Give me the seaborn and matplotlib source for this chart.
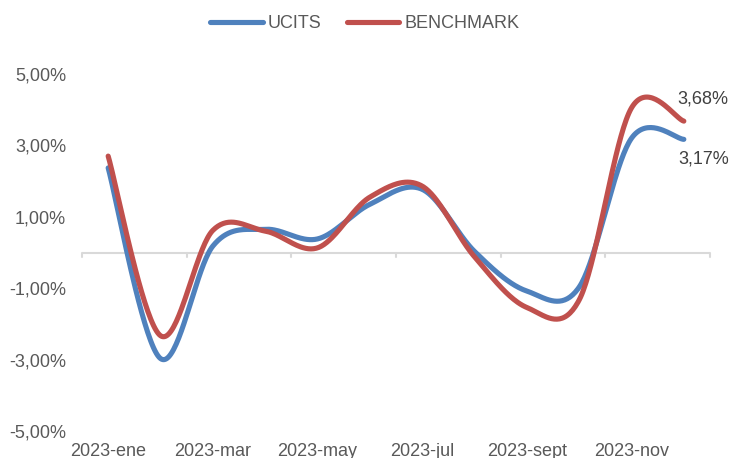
import numpy as np
import pandas as pd
import matplotlib
matplotlib.use("Agg")
import matplotlib.pyplot as plt
from matplotlib.lines import Line2D
import seaborn as sns

# ---- data ----
months = ["2023-ene", "2023-feb", "2023-mar", "2023-abr", "2023-may", "2023-jun",
          "2023-jul", "2023-ago", "2023-sept", "2023-oct", "2023-nov", "2023-dic"]
ucits = [2.37, -2.97, 0.18, 0.65, 0.38, 1.35, 1.77, 0.03, -1.08, -0.97, 3.20, 3.17]
benchmark = [2.70, -2.33, 0.62, 0.60, 0.13, 1.55, 1.86, -0.12, -1.54, -1.33, 4.05, 3.68]
series_names = ["UCITS", "BENCHMARK"]
end_labels = ["3,17%", "3,68%"]
y_ticks = [-5, -3, -1, 1, 3, 5]
y_tick_labels = ["-5,00%", "-3,00%", "-1,00%", "1,00%", "3,00%", "5,00%"]
x_tick_labels = months[::2]

colors = {"UCITS": "#4F81BD", "BENCHMARK": "#C0504D"}


def smooth(vals, n=40):
    """Excel-style smoothed line (Catmull-Rom via cubic Bezier)."""
    P = np.column_stack([np.arange(len(vals), dtype=float), np.asarray(vals, float)])
    segs = []
    for i in range(len(P) - 1):
        p0 = P[i - 1] if i > 0 else P[i]
        p1, p2 = P[i], P[i + 1]
        p3 = P[i + 2] if i + 2 < len(P) else P[i + 1]
        c1 = p1 + (p2 - p0) / 6
        c2 = p2 - (p3 - p1) / 6
        t = np.linspace(0, 1, n, endpoint=(i == len(P) - 2))[:, None]
        segs.append((1 - t) ** 3 * p1 + 3 * (1 - t) ** 2 * t * c1
                    + 3 * (1 - t) * t ** 2 * c2 + t ** 3 * p2)
    return np.vstack(segs)


frames = []
for name, vals in zip(series_names, [ucits, benchmark]):
    s = smooth(vals)
    frames.append(pd.DataFrame({"x": s[:, 0], "y": s[:, 1], "series": name}))
df = pd.concat(frames, ignore_index=True)

sns.set_theme(style="white")
plt.rcParams["font.family"] = ["Liberation Sans", "DejaVu Sans"]

fig = plt.figure(figsize=(7.30, 4.58), dpi=100)
ax = fig.add_axes([82 / 730, 1 - 431 / 458, (710 - 82) / 730, (431 - 74) / 458])

# zero line with category tick marks
ax.axhline(0, color="#D9D9D9", lw=1.5, zorder=1)
for b in np.arange(-0.5, 12, 2):
    ax.plot([b, b], [0, -0.13], color="#D9D9D9", lw=1.5, zorder=1, clip_on=False)

sns.lineplot(data=df, x="x", y="y", hue="series", palette=colors, sort=False,
             estimator=None, units="series", lw=3.7, legend=False, ax=ax, zorder=3)
for ln in ax.get_lines():
    ln.set_solid_capstyle("round")

ax.set_xlim(-0.5, 11.5)
ax.set_ylim(-5, 5)
ax.set_xticks(range(0, 12, 2))
ax.set_xticklabels(x_tick_labels)
ax.set_yticks(y_ticks)
ax.set_yticklabels(y_tick_labels)
ax.tick_params(axis="x", length=0, pad=8.5, labelsize=13, labelcolor="#595959")
ax.tick_params(axis="y", length=0, pad=11.5, labelsize=13, labelcolor="#595959")
ax.set_xlabel("")
ax.set_ylabel("")
for sp in ax.spines.values():
    sp.set_visible(False)
ax.grid(False)

# end labels
ax.annotate(end_labels[1], (11, benchmark[-1]), xytext=(13.5, 16), textcoords="offset points",
            ha="center", va="center", fontsize=13, color="#404040")
ax.annotate(end_labels[0], (11, ucits[-1]), xytext=(14, -14.5), textcoords="offset points",
            ha="center", va="center", fontsize=13, color="#404040")

handles = [Line2D([0], [0], color=colors[n], lw=3.7, solid_capstyle="round") for n in series_names]
fig.legend(handles, series_names, loc="center", bbox_to_anchor=(0.5, 1 - 24 / 458),
           ncol=2, frameon=False, fontsize=13, handlelength=2.9, handletextpad=0.3,
           columnspacing=1.4, labelcolor="#595959")

fig.savefig("out.png", dpi=100)
